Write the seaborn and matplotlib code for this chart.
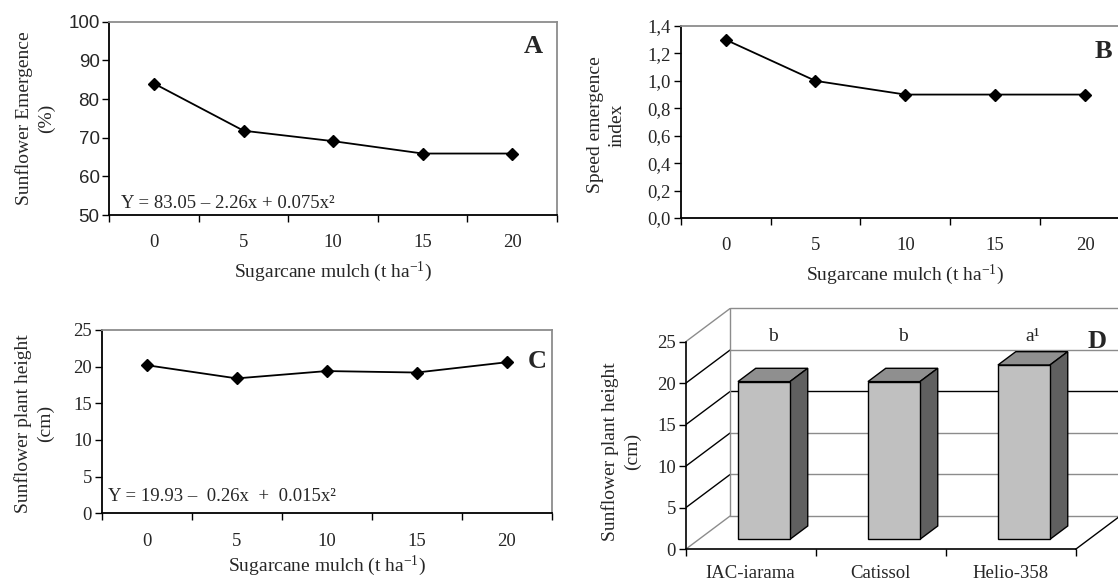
import numpy as np
import pandas as pd
import matplotlib
matplotlib.use('Agg')
import matplotlib.pyplot as plt
from matplotlib.patches import Polygon
from matplotlib.ticker import FixedLocator, FuncFormatter
import seaborn as sns

# values
mulch = ['0', '5', '10', '15', '20']
emergence = [84.0, 71.8, 69.1, 65.9, 65.9]
speed_index = [1.30, 1.00, 0.90, 0.90, 0.90]
height_mulch = [20.2, 18.4, 19.4, 19.2, 20.6]
cultivars = ['IAC-iarama', 'Catissol', 'Helio-358']
height_cultivar = [19.0, 19.0, 21.0]
letters = ['b', 'b', 'a¹']

sns.set_theme(style='white')
plt.rcParams['font.family'] = ['Liberation Serif', 'DejaVu Serif']
plt.rcParams['mathtext.fontset'] = 'custom'
plt.rcParams['mathtext.rm'] = 'Liberation Serif'
plt.rcParams['mathtext.it'] = 'Liberation Serif:italic'

W, H = 1118, 580
fig = plt.figure(figsize=(W / 100, H / 100), dpi=100)


def box(left, top, right, bottom):
    # pixel box -> figure fraction
    return [left / W, 1 - bottom / H, (right - left) / W, (bottom - top) / H]


XLAB = 'Sugarcane mulch (t ha$^{\\mathregular{-1}}$)'
TICK_FS = 13.5
LAB_FS = 14
EQ_FS = 13.5
LET_FS = 19


def line_panel(rect, values, ylim, step, ylabel, ylab_xy, xlab_y, letter, letter_xy,
               sans_ticks=False, fmt=None, eq=None, eq_xy=None):
    ax = fig.add_axes(rect)
    sns.pointplot(x=mulch, y=values, color='black', markers='D', linewidth=1.3,
                  markersize=6.5, ax=ax)
    ax.set_xlim(-0.5, len(mulch) - 0.5)
    ax.set_ylim(*ylim)
    ax.set_yticks(np.arange(ylim[0], ylim[1] + step / 2, step))
    if fmt is not None:
        ax.yaxis.set_major_formatter(FuncFormatter(fmt))
    ax.xaxis.set_minor_locator(FixedLocator(np.arange(-0.5, len(mulch), 1)))
    ax.tick_params(axis='x', which='major', length=0, pad=14, labelsize=TICK_FS)
    ax.tick_params(axis='x', which='minor', length=5, width=1, direction='out',
                   color='black', bottom=True)
    ax.tick_params(axis='y', length=5, width=1, direction='out', color='black',
                   left=True, pad=2, labelsize=TICK_FS)
    if sans_ticks:
        for t in ax.get_yticklabels():
            t.set_family('Liberation Sans')
            t.set_fontsize(13.5)
    for s in ['left', 'bottom']:
        ax.spines[s].set_color('black')
        ax.spines[s].set_linewidth(1.3)
    for s in ['top', 'right']:
        ax.spines[s].set_color('#8c8c8c')
        ax.spines[s].set_linewidth(1.3)
    ax.set_ylabel(ylabel, fontsize=LAB_FS, ha='center', va='center', linespacing=1.35)
    ax.yaxis.set_label_coords(*ylab_xy)
    ax.set_xlabel(XLAB, fontsize=LAB_FS, va='center')
    ax.xaxis.set_label_coords(0.5, xlab_y)
    ax.text(*letter_xy, letter, transform=ax.transAxes, fontsize=LET_FS,
            fontweight='bold', ha='center', va='center')
    if eq is not None:
        ax.text(*eq_xy, eq, transform=ax.transAxes, fontsize=EQ_FS,
                ha='left', va='center')
    return ax


# A
line_panel(box(109.3, 21.7, 557, 215), emergence, (50, 100), 10,
           'Sunflower Emergence\n(%)', (-0.165, 0.5), -0.295, 'A', (0.946, 0.87),
           sans_ticks=True, eq='Y = 83.05 – 2.26x + 0.075x²', eq_xy=(0.026, 0.062))

# B
line_panel(box(680.7, 26, 1130, 218), speed_index, (0, 1.4), 0.2,
           'Speed emergence\nindex', (-0.166, 0.484), -0.297, 'B', (0.94, 0.865),
           fmt=lambda v, p: f'{v:.1f}'.replace('.', ','))

# C
line_panel(box(101.7, 330, 551.7, 513.3), height_mulch, (0, 25), 5,
           'Sunflower plant height\n(cm)', (-0.151, 0.49), -0.285, 'C', (0.968, 0.827),
           eq='Y = 19.93 –  0.26x  +  0.015x²', eq_xy=(0.015, 0.09))

# D : pseudo 3-D column chart
axd = fig.add_axes(box(685.6, 308.3, 1118, 549.3))
cat_px, unit_px = 130, 8.3
ddx, ddy = 44.5 / cat_px, 33.3 / unit_px      # depth of the floor in data units
f0, f1 = 0.3, 0.7                              # bars sit between these depths
ymax = 25
sns.barplot(x=cultivars, y=height_cultivar, width=0.4, color='#c0c0c0',
            saturation=1, edgecolor='black', linewidth=1, ax=axd, zorder=5)
axd.set_xlim(-0.5, -0.5 + (1118 - 685.6) / cat_px)
axd.set_ylim(0, (549.3 - 308.3) / unit_px)
n = len(cultivars)
gray = '#8c8c8c'

# walls and floor
for v in range(0, ymax + 1, 5):
    c = gray if v in (0, ymax) else 'black'
    axd.plot([-0.5, -0.5 + ddx], [v, v + ddy], color=c, lw=1, zorder=1)
    gc = 'black' if v == 15 else gray
    axd.plot([-0.5 + ddx, n - 0.5 + ddx], [v + ddy, v + ddy], color=gc, lw=1,
             zorder=1, clip_on=False)
axd.plot([-0.5 + ddx, -0.5 + ddx], [ddy, ymax + ddy], color=gray, lw=1, zorder=1)
axd.plot([n - 0.5, n - 0.5 + ddx], [0, ddy], color='black', lw=1, zorder=1,
         clip_on=False)

# side and top faces from the seaborn bars
for p, lab in zip(axd.patches, letters):
    x0 = p.get_x() + f0 * ddx
    w, h = p.get_width(), p.get_height()
    y0 = f0 * ddy
    p.set_x(x0)
    p.set_y(y0)
    sx, sy = (f1 - f0) * ddx, (f1 - f0) * ddy
    top = [(x0, y0 + h), (x0 + sx, y0 + h + sy), (x0 + w + sx, y0 + h + sy), (x0 + w, y0 + h)]
    side = [(x0 + w, y0), (x0 + w, y0 + h), (x0 + w + sx, y0 + h + sy), (x0 + w + sx, y0 + sy)]
    axd.add_patch(Polygon(top, closed=True, facecolor='#8f8f8f', edgecolor='black',
                          lw=1, zorder=4))
    axd.add_patch(Polygon(side, closed=True, facecolor='#606060', edgecolor='black',
                          lw=1, zorder=4))
    axd.text(x0 + w / 2 + sx / 2, ymax + 0.6, lab, fontsize=TICK_FS + 0.5,
             ha='center', va='center')

axd.set_yticks(range(0, ymax + 1, 5))
axd.spines['left'].set_bounds(0, ymax)
axd.spines['bottom'].set_bounds(-0.5, n - 0.5)
for s in ['top', 'right']:
    axd.spines[s].set_visible(False)
for s in ['left', 'bottom']:
    axd.spines[s].set_color('black')
    axd.spines[s].set_linewidth(1.2)
axd.xaxis.set_minor_locator(FixedLocator(np.arange(-0.5, n, 1)))
axd.tick_params(axis='x', which='major', length=0, pad=11, labelsize=TICK_FS)
axd.tick_params(axis='x', which='minor', length=5, width=1, direction='out',
                color='black', bottom=True)
axd.tick_params(axis='y', length=5, width=1, direction='out', color='black',
                left=True, pad=2, labelsize=TICK_FS)
axd.set_ylabel('Sunflower plant height\n(cm)', fontsize=LAB_FS, ha='center',
               va='center', linespacing=1.35)
axd.yaxis.set_label_coords(-0.149, 0.405)
axd.set_xlabel('')
axd.text(0.951, 0.861, 'D', transform=axd.transAxes, fontsize=LET_FS,
         fontweight='bold', ha='center', va='center')

fig.savefig('out.png', dpi=100)
